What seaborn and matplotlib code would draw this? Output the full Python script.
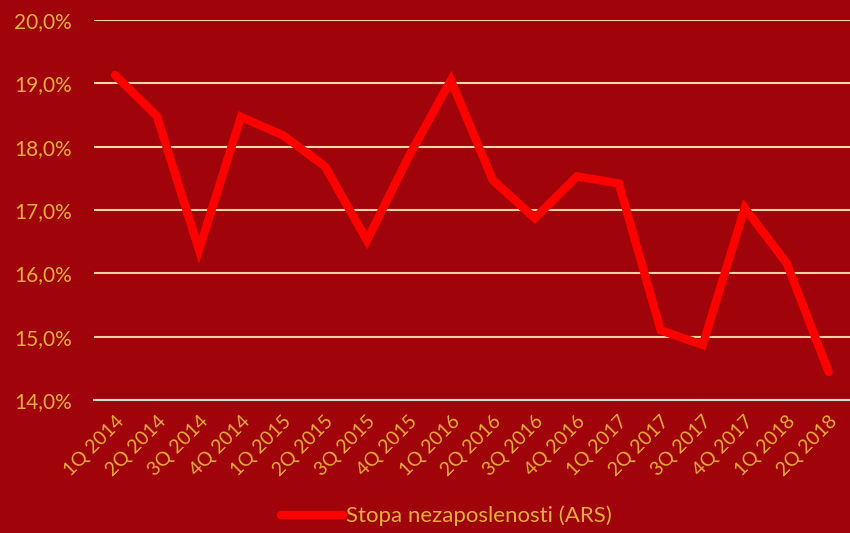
import matplotlib
matplotlib.use('Agg')
import matplotlib.pyplot as plt
import matplotlib.ticker as mticker
import seaborn as sns
import pandas as pd
import numpy as np

quarters = ['1Q 2014', '2Q 2014', '3Q 2014', '4Q 2014',
            '1Q 2015', '2Q 2015', '3Q 2015', '4Q 2015',
            '1Q 2016', '2Q 2016', '3Q 2016', '4Q 2016',
            '1Q 2017', '2Q 2017', '3Q 2017', '4Q 2017',
            '1Q 2018', '2Q 2018']
unemployment = [19.13, 18.48, 16.37, 18.47,
                18.18, 17.69, 16.52, 17.85,
                19.05, 17.47, 16.87, 17.53,
                17.42, 15.10, 14.87, 17.03,
                16.16, 14.44]
series_name = 'Stopa nezaposlenosti (ARS)'

bg = '#A00309'
text_col = '#E6AE3C'
grid_col = '#F3D3A6'

sns.set_style('white')
plt.rcParams['font.family'] = ['Lato', 'DejaVu Sans']

data = pd.DataFrame({'Kvartal': quarters, 'Stopa': unemployment})

fig = plt.figure(figsize=(8.5, 5.33), dpi=100, facecolor=bg)
ax = fig.add_axes([0.1106, 0.2495, 0.889, 0.713])
ax.set_facecolor(bg)

sns.lineplot(data=data, x='Kvartal', y='Stopa', ax=ax, color='#FF0000',
             linewidth=6, solid_capstyle='round', solid_joinstyle='miter',
             label=series_name, legend=False)

ax.set_ylim(14, 20)
ax.set_xlim(-0.5, len(quarters) - 0.5)
ax.yaxis.set_major_locator(mticker.MultipleLocator(1))
ax.yaxis.set_major_formatter(mticker.FuncFormatter(lambda v, p: f'{v:.1f}%'.replace('.', ',')))
ax.grid(axis='y', color=grid_col, linewidth=1.5)
ax.set_axisbelow(True)

for s in ['top', 'right', 'left']:
    ax.spines[s].set_visible(False)
ax.spines['bottom'].set_color('#D9D9D9')
ax.spines['bottom'].set_linewidth(1.5)

ax.set_xticks(range(len(quarters)))
ax.set_xticklabels(quarters, rotation=45, ha='right', rotation_mode='anchor')
ax.xaxis.set_minor_locator(mticker.FixedLocator(np.arange(-0.5, len(quarters), 1)))
ax.tick_params(axis='x', which='major', length=0, pad=9, labelsize=14, labelcolor=text_col)
ax.tick_params(axis='x', which='minor', length=5, width=1.5, color='#D9D9D9', direction='out')
ax.tick_params(axis='y', length=0, pad=16, labelsize=15, labelcolor=text_col)
ax.set_xlabel('')
ax.set_ylabel('')

handles, labels = ax.get_legend_handles_labels()
leg = fig.legend(handles, labels, loc='lower center', bbox_to_anchor=(0.525, -0.025),
                 frameon=False, fontsize=16, handlelength=2.8, handletextpad=0.1)
for t in leg.get_texts():
    t.set_color(text_col)

fig.savefig('out.png', dpi=100, facecolor=bg)
